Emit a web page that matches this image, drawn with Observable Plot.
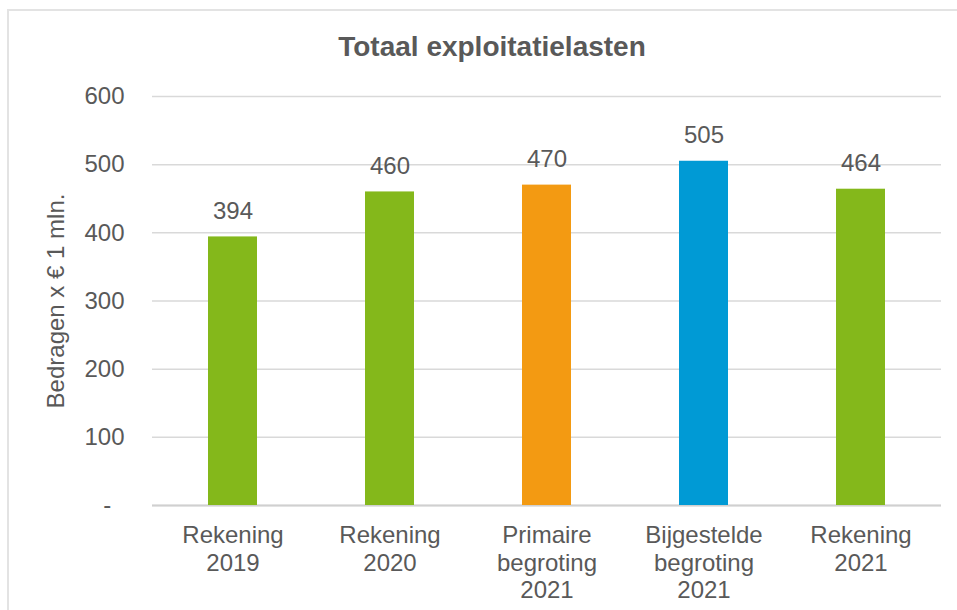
<!DOCTYPE html>
<html>
<head>
<meta charset="utf-8">
<script src="https://cdn.jsdelivr.net/npm/d3@7"></script>
<script src="https://cdn.jsdelivr.net/npm/@observablehq/plot@0.6"></script>
<style>
  html, body { margin: 0; padding: 0; background: #fff; }
  #wrap { position: relative; width: 957px; height: 610px; overflow: hidden; font-family: "Liberation Sans", Arial, sans-serif; }
  #border { position: absolute; left: 7px; top: 9px; width: 970px; height: 620px; border-left: 2px solid #e3e3e3; border-top: 2px solid #e3e3e3; box-sizing: border-box; }
  #title { position: absolute; left: 492px; top: 33px; transform: translateX(-50%); white-space: nowrap; font-size: 28px; line-height: 28px; font-weight: bold; color: #595959; }
  #chart { position: absolute; left: 0; top: 0; }
</style>
</head>
<body>
<div id="wrap">
  <div id="border"></div>
  <div id="title">Totaal exploitatielasten</div>
  <div id="chart"></div>
</div>
<script>
const categories = ["Rekening\n2019", "Rekening\n2020", "Primaire\nbegroting\n2021", "Bijgestelde\nbegroting\n2021", "Rekening\n2021"];
const values = [394, 460, 470, 505, 464];
const kinds = ["Rekening", "Rekening", "Primaire begroting", "Bijgestelde begroting", "Rekening"];
const yTicks = [0, 100, 200, 300, 400, 500, 600];
const yLabel = "Bedragen x € 1 mln.";

const data = categories.map((c, i) => ({category: c, value: values[i], kind: kinds[i]}));
const textColor = "#595959";

const chart = Plot.plot({
  width: 957,
  height: 610,
  marginLeft: 152,
  marginRight: 16,
  marginTop: 96,
  marginBottom: 105,
  style: {fontFamily: "'Liberation Sans', Arial, sans-serif", color: textColor, background: "transparent"},
  x: {domain: categories, paddingInner: 0.69, paddingOuter: 0.345, axis: null},
  y: {domain: [0, 600], axis: null},
  color: {domain: ["Rekening", "Primaire begroting", "Bijgestelde begroting"], range: ["#84b81b", "#f39a12", "#009ad5"]},
  marks: [
    Plot.gridY(yTicks, {stroke: "#d9d9d9", strokeOpacity: 1, strokeWidth: 1.5}),
    Plot.ruleY([0], {stroke: "#d0d0d0", strokeWidth: 2}),
    Plot.axisY({ticks: yTicks, tickSize: 0, tickPadding: 28, fontSize: 24, fill: textColor,
      tickFormat: d => d === 0 ? "-\u00a0\u00a0" : String(d), label: null}),
    Plot.axisX({tickSize: 0, tickPadding: 18, fontSize: 24, fill: textColor, lineHeight: 1.15, lineAnchor: "top", label: null}),
    Plot.barY(data, {x: "category", y: "value", fill: "kind"}),
    Plot.text(data, {x: "category", y: "value", text: d => String(d.value), dy: -18, lineAnchor: "bottom", fontSize: 24, fill: textColor}),
    Plot.text([yLabel], {frameAnchor: "left", textAnchor: "middle", lineAnchor: "middle", rotate: -90, dx: -96, fontSize: 24, fill: textColor})
  ]
});
document.getElementById("chart").appendChild(chart);
</script>
</body>
</html>
